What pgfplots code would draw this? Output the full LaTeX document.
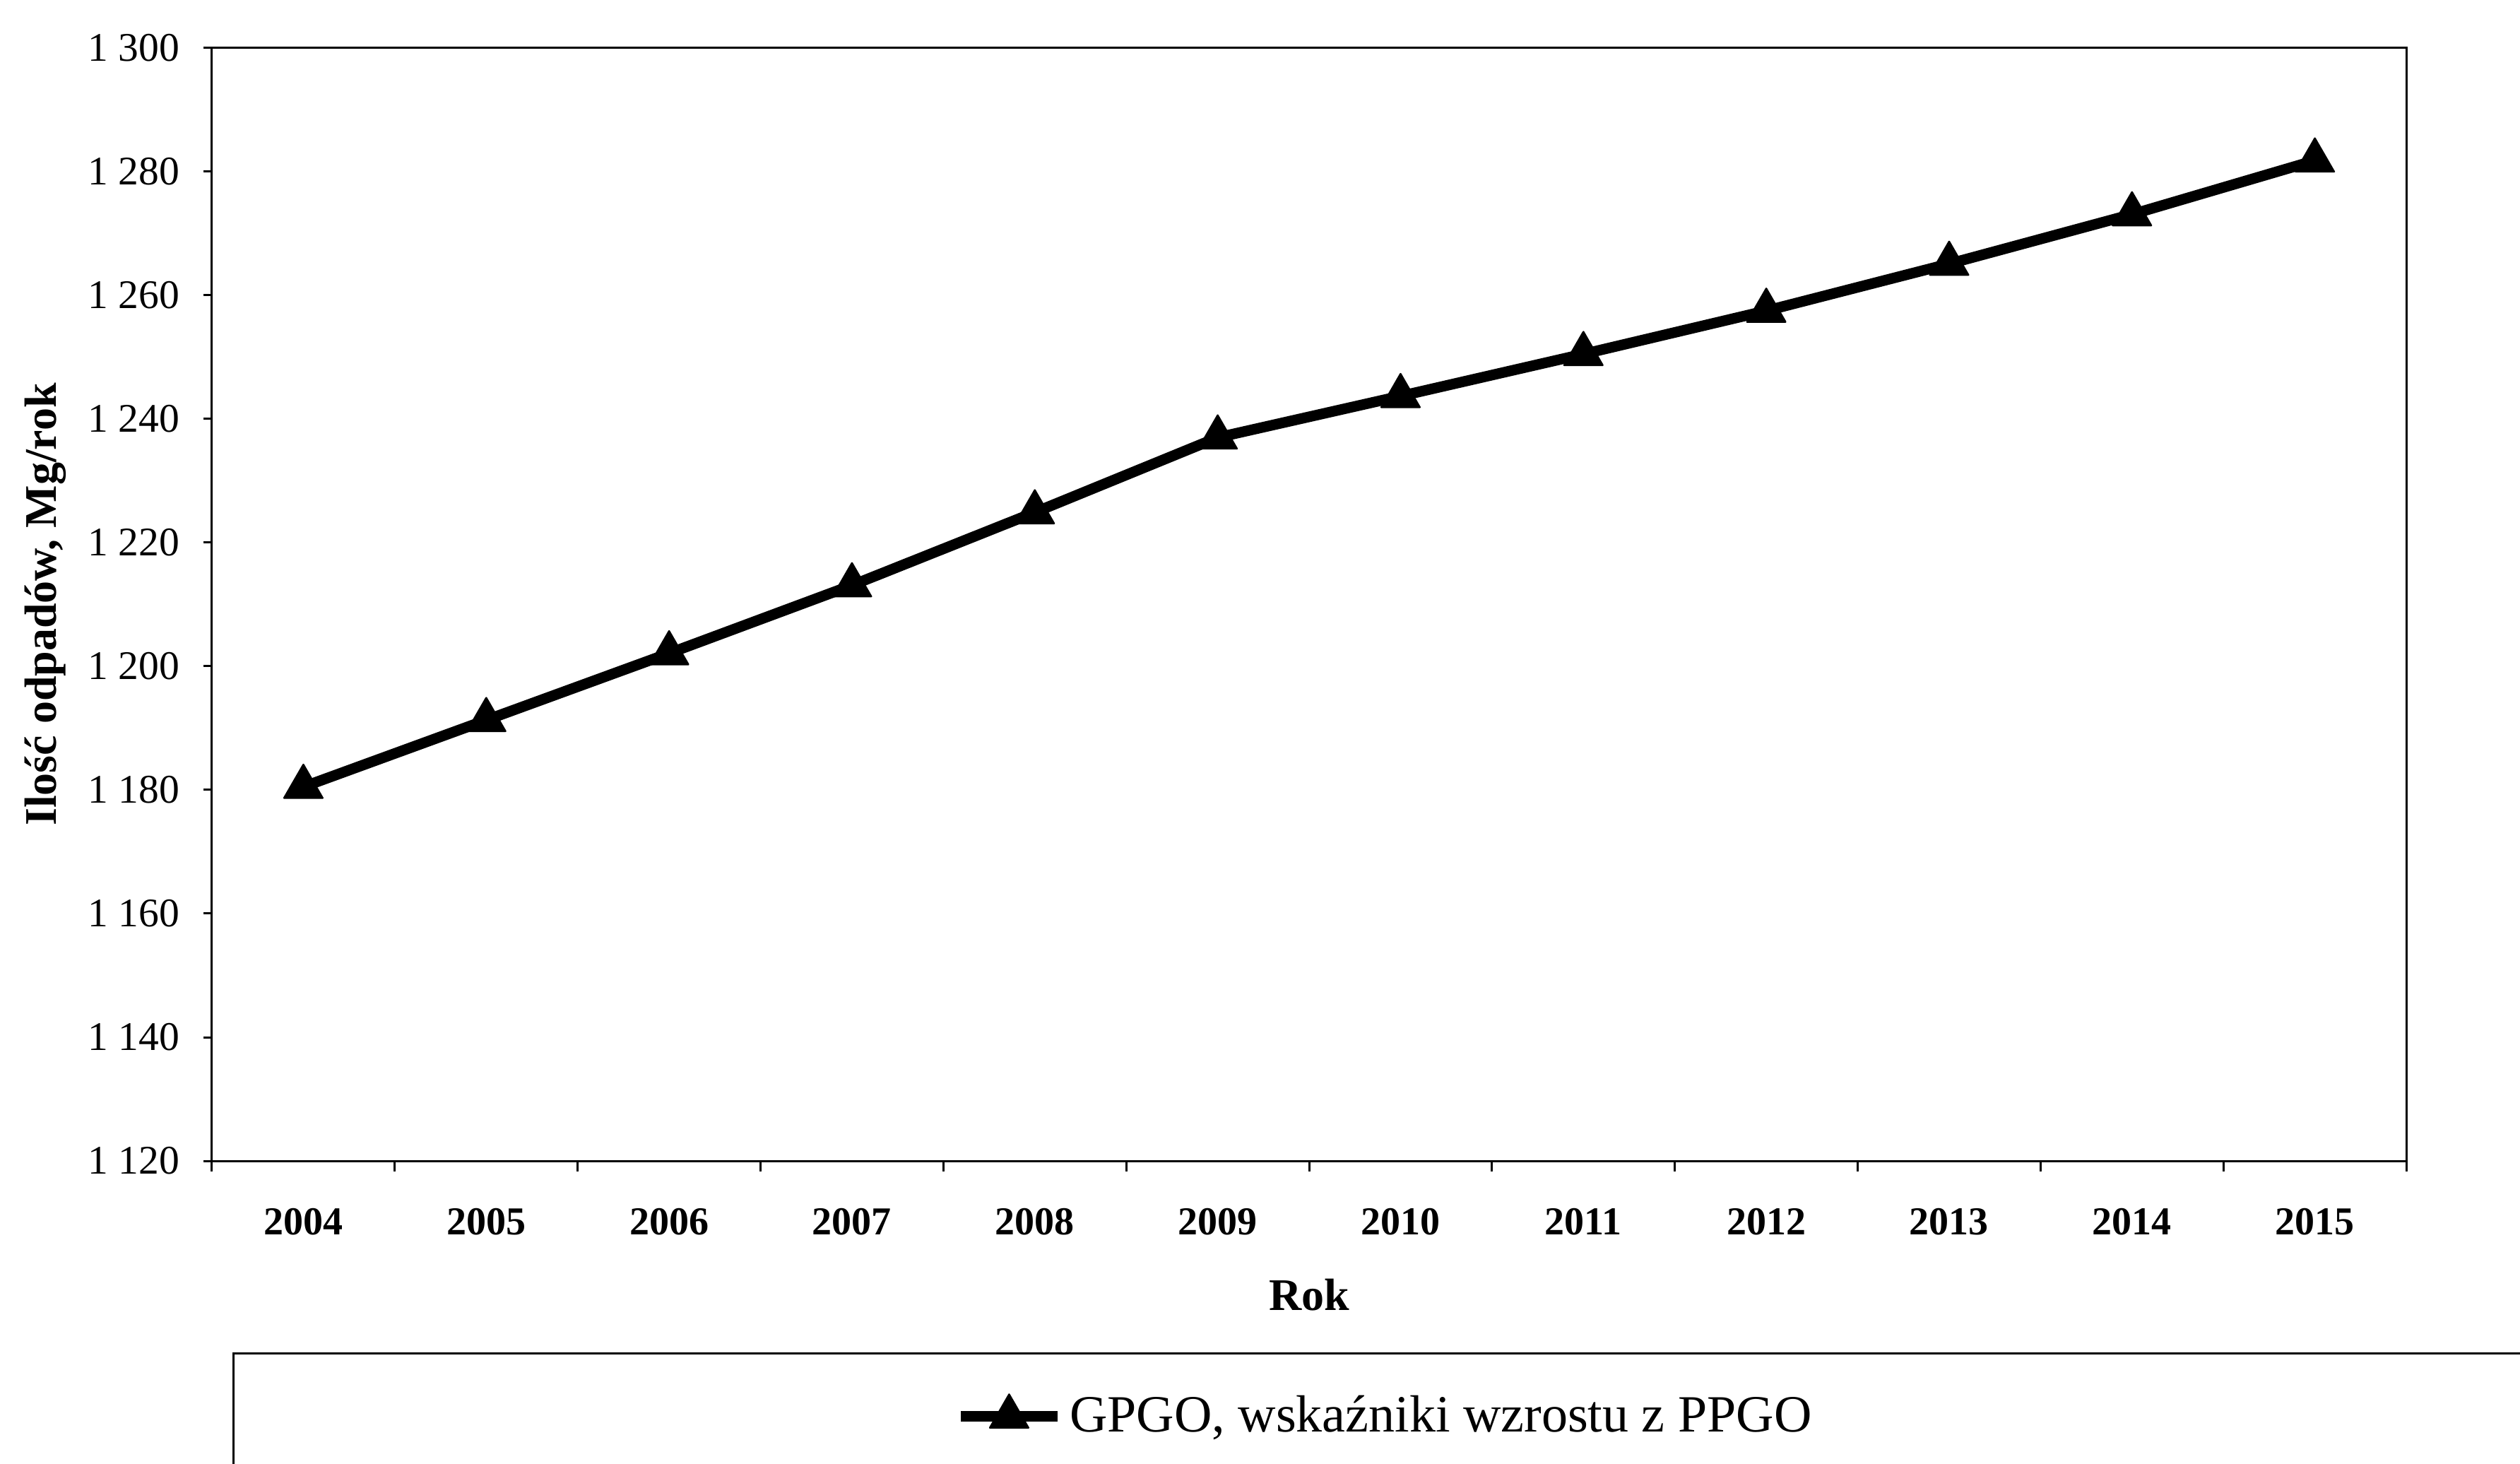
\documentclass[border=0pt]{standalone}
\usepackage{fontspec}
\setmainfont{Liberation Serif}
\usepackage{pgfplots}
\usepackage{pgfplotstable}
\pgfplotsset{compat=1.18}

% Ilość odpadów wg GPGO (wskaźniki wzrostu z PPGO), Mg/rok
\pgfplotstableread{
idx year value
0  2004 1180.5
1  2005 1191.3
2  2006 1202.1
3  2007 1213.1
4  2008 1224.9
5  2009 1237.0
6  2010 1243.7
7  2011 1250.5
8  2012 1257.5
9  2013 1265.1
10 2014 1273.1
11 2015 1281.8
}\odpady

\begin{document}
\begin{tikzpicture}
\begin{axis}[
  scale only axis,
  width=621.2pt, height=315pt,
  xmin=-0.5, xmax=11.5,
  ymin=1120, ymax=1300,
  xtick={0,...,11},
  xticklabels={2004,2005,2006,2007,2008,2009,2010,2011,2012,2013,2014,2015},
  minor xtick={-0.5,0.5,...,11.5},
  ytick={1120,1140,...,1300},
  yticklabels={1 120,1 140,1 160,1 180,1 200,1 220,1 240,1 260,1 280,1 300},
  tick pos=left,
  tick align=outside,
  major tick length=2.4pt,
  minor tick length=3pt,
  major x tick style={draw=none},
  axis line style={line width=0.6pt},
  every tick/.style={black, line width=0.6pt},
  xticklabel style={font=\fontsize{11.2}{13}\selectfont\bfseries, yshift=-7.5pt},
  yticklabel style={font=\fontsize{11.5}{13}\selectfont, xshift=-3.3pt},
  xlabel={Rok},
  ylabel={Ilość odpadów, Mg/rok},
  xlabel style={font=\fontsize{12.8}{15}\selectfont\bfseries,
    at={(axis description cs:0.5,-0.1346)}, anchor=base},
  ylabel style={font=\fontsize{12.8}{15}\selectfont\bfseries,
    at={(axis description cs:-0.0710,0.5)}, anchor=base},
  clip=false,
  legend style={draw=none, fill=none,
    font=\fontsize{14.8}{17}\selectfont,
    at={(axis description cs:0.5356,-0.2298)}, anchor=center,
    inner sep=0pt},
  legend image code/.code={
    \draw[mark repeat=2, mark phase=2]
      plot coordinates {(0cm,0cm) (0.48cm,0cm) (0.96cm,0cm)};
  },
]
\addplot[black, line width=3pt, line join=round,
  mark=triangle*, mark size=6.3pt,
  mark options={solid, fill=black, line width=0.5pt}]
  table[x=idx, y=value] {\odpady};
\addlegendentry{GPGO, wskaźniki wzrostu z PPGO}
\coordinate (bl) at (rel axis cs:0,0);
\coordinate (tr) at (rel axis cs:1,1);
\end{axis}
% ramka legendy
\draw[line width=0.6pt] ([shift={(6pt,-140pt)}]bl) |- ([shift={(760pt,-54.6pt)}]bl);
\pgfresetboundingbox
\path[use as bounding box] ([shift={(-60pt,-85.6pt)}]bl) rectangle ([shift={(32.2pt,13.6pt)}]tr);
\end{tikzpicture}
\end{document}
